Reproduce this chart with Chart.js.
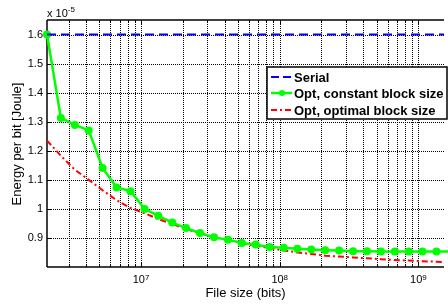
<!DOCTYPE html>
<html>
<head>
<meta charset="utf-8">
<script src="https://cdn.jsdelivr.net/npm/chart.js@4.4.0/dist/chart.umd.min.js"></script>
<style>
  body { margin: 0; background: #fff; }
  canvas { display: block; }
</style>
</head>
<body>
<canvas id="energy-chart" width="448" height="308"></canvas>
<script>
// file sizes in bits (steps of 2^(1/3))
const fileSizes = [2.097e6, 2.64e6, 3.33e6, 4.19e6, 5.28e6, 6.66e6, 8.39e6, 1.06e7, 1.33e7, 1.68e7,
  2.11e7, 2.66e7, 3.36e7, 4.23e7, 5.33e7, 6.71e7, 8.46e7, 1.07e8, 1.34e8, 1.69e8,
  2.13e8, 2.68e8, 3.38e8, 4.26e8, 5.37e8, 6.76e8, 8.52e8, 1.07e9, 1.35e9, 1.70e9];

// energy per bit, in units of 1e-5 Joule
const serialEnergy = [1.6, 1.6, 1.6, 1.6, 1.6, 1.6, 1.6, 1.6, 1.6, 1.6,
  1.6, 1.6, 1.6, 1.6, 1.6, 1.6, 1.6, 1.6, 1.6, 1.6,
  1.6, 1.6, 1.6, 1.6, 1.6, 1.6, 1.6, 1.6, 1.6, 1.6];
const constantBlockEnergy = [1.6, 1.313, 1.289, 1.27, 1.141, 1.074, 1.061, 1.0, 0.976, 0.953,
  0.934, 0.917, 0.902, 0.894, 0.883, 0.877, 0.869, 0.866, 0.863, 0.86,
  0.858, 0.857, 0.854, 0.854, 0.853, 0.853, 0.853, 0.853, 0.853, 0.853];
const optimalBlockEnergy = [1.235, 1.183, 1.135, 1.1, 1.064, 1.03, 1.003, 0.985, 0.965, 0.948,
  0.931, 0.916, 0.903, 0.893, 0.882, 0.873, 0.865, 0.857, 0.85, 0.845,
  0.839, 0.836, 0.833, 0.83, 0.827, 0.824, 0.822, 0.82, 0.818, 0.817];

const seriesLabels = ["Serial", "Opt, constant block size", "Opt, optimal block size"];

const yTicks = [0.9, 1.0, 1.1, 1.2, 1.3, 1.4, 1.5, 1.6];
const yTickLabels = ["0.9", "1", "1.1", "1.2", "1.3", "1.4", "1.5", "1.6"];
const xMajorTicks = [1e7, 1e8, 1e9];
const xMajorExponents = ["7", "8", "9"];
const xMinorTicks = [3e6, 4e6, 5e6, 6e6, 7e6, 8e6, 9e6,
  2e7, 3e7, 4e7, 5e7, 6e7, 7e7, 8e7, 9e7,
  2e8, 3e8, 4e8, 5e8, 6e8, 7e8, 8e8, 9e8];

const font = "'Liberation Sans', Arial, sans-serif";

function toPoints(values) {
  return values.map((v, i) => ({ x: fileSizes[i], y: v }));
}

function line(ctx, x1, y1, x2, y2) {
  ctx.beginPath();
  ctx.moveTo(x1, y1);
  ctx.lineTo(x2, y2);
  ctx.stroke();
}

// grid, ticks, axes, texts and legend in MATLAB style
const matlabFrame = {
  id: "matlabFrame",
  beforeDatasetsDraw(chart) {
    const { ctx, chartArea: a, scales: { x, y } } = chart;
    ctx.save();
    ctx.strokeStyle = "#000";
    ctx.lineWidth = 1;
    ctx.setLineDash([1, 1]);
    xMinorTicks.concat(xMajorTicks).forEach((v) => {
      const px = Math.round(x.getPixelForValue(v)) + 0.5;
      line(ctx, px, a.top, px, a.bottom);
    });
    yTicks.forEach((v) => {
      const py = Math.round(y.getPixelForValue(v)) + 0.5;
      line(ctx, a.left, py, a.right, py);
    });
    ctx.setLineDash([]);
    // tick marks
    xMajorTicks.forEach((v) => {
      const px = Math.round(x.getPixelForValue(v)) + 0.5;
      line(ctx, px, a.bottom, px, a.bottom - 5);
      line(ctx, px, a.top, px, a.top + 5);
    });
    xMinorTicks.forEach((v) => {
      const px = Math.round(x.getPixelForValue(v)) + 0.5;
      line(ctx, px, a.bottom, px, a.bottom - 3);
      line(ctx, px, a.top, px, a.top + 3);
    });
    yTicks.forEach((v) => {
      const py = Math.round(y.getPixelForValue(v)) + 0.5;
      line(ctx, a.left, py, a.left + 4, py);
    });
    // axes box
    ctx.lineWidth = 1.5;
    line(ctx, a.left, a.top, a.left, a.bottom);
    line(ctx, a.left, a.bottom, a.right, a.bottom);
    line(ctx, a.left, a.top, a.right, a.top);
    ctx.restore();
  },
  afterDraw(chart) {
    const { ctx, chartArea: a, scales: { x, y } } = chart;
    ctx.save();
    ctx.fillStyle = "#000";

    // y tick labels
    ctx.font = "11px " + font;
    ctx.textAlign = "right";
    ctx.textBaseline = "middle";
    yTicks.forEach((v, i) => {
      ctx.fillText(yTickLabels[i], a.left - 4, y.getPixelForValue(v));
    });

    // x tick labels 10^n
    ctx.textAlign = "left";
    ctx.textBaseline = "alphabetic";
    xMajorTicks.forEach((v, i) => {
      const px = x.getPixelForValue(v);
      ctx.font = "11px " + font;
      const w1 = ctx.measureText("10").width;
      ctx.font = "8px " + font;
      const w2 = ctx.measureText(xMajorExponents[i]).width;
      const start = px - (w1 + w2) / 2;
      ctx.font = "11px " + font;
      ctx.fillText("10", start, a.bottom + 16);
      ctx.font = "8px " + font;
      ctx.fillText(xMajorExponents[i], start + w1, a.bottom + 13);
    });

    // exponent label
    ctx.font = "11px " + font;
    ctx.fillText("x 10", a.left, a.top - 3);
    const wx = ctx.measureText("x 10").width;
    ctx.font = "8px " + font;
    ctx.fillText("-5", wx + a.left, a.top - 8);

    // axis titles
    ctx.font = "13px " + font;
    ctx.textAlign = "center";
    ctx.textBaseline = "middle";
    ctx.fillText("File size (bits)", (a.left + a.right) / 2, 293);
    ctx.save();
    ctx.translate(17, 144);
    ctx.rotate(-Math.PI / 2);
    ctx.fillText("Energy per bit [Joule]", 0, 0);
    ctx.restore();

    // legend
    const lx = 267, ly = 67, lw = 180, lh = 52;
    ctx.fillStyle = "#fff";
    ctx.fillRect(lx, ly, lw, lh);
    ctx.strokeStyle = "#000";
    ctx.lineWidth = 1.5;
    ctx.strokeRect(lx, ly, lw, lh);
    const rows = [ly + 10, ly + 26, ly + 43];
    ctx.lineWidth = 2;
    ctx.strokeStyle = "#0000ff";
    ctx.setLineDash([8, 4]);
    line(ctx, lx + 4, rows[0], lx + 25, rows[0]);
    ctx.strokeStyle = "#00ff00";
    ctx.setLineDash([]);
    ctx.lineWidth = 2.5;
    line(ctx, lx + 4, rows[1], lx + 25, rows[1]);
    ctx.fillStyle = "#00ff00";
    ctx.beginPath();
    ctx.arc(lx + 15, rows[1], 3, 0, Math.PI * 2);
    ctx.fill();
    ctx.lineWidth = 2;
    ctx.strokeStyle = "#ff0000";
    ctx.setLineDash([6, 3, 2, 3]);
    line(ctx, lx + 4, rows[2], lx + 25, rows[2]);
    ctx.setLineDash([]);
    ctx.fillStyle = "#000";
    ctx.font = "bold 13px " + font;
    ctx.textAlign = "left";
    seriesLabels.forEach((t, i) => ctx.fillText(t, lx + 27, rows[i] + 1));
    ctx.restore();
  },
};

new Chart(document.querySelector("#energy-chart").getContext("2d"), {
  type: "line",
  data: {
    datasets: [
      {
        label: seriesLabels[0],
        data: toPoints(serialEnergy),
        borderColor: "#0000ff",
        borderWidth: 2,
        borderDash: [9, 5],
        pointRadius: 0,
      },
      {
        label: seriesLabels[1],
        data: toPoints(constantBlockEnergy),
        borderColor: "#00ff00",
        backgroundColor: "#00ff00",
        borderWidth: 2.5,
        pointRadius: 4,
        pointBorderWidth: 0,
        clip: false,
      },
      {
        label: seriesLabels[2],
        data: toPoints(optimalBlockEnergy),
        borderColor: "#ff0000",
        borderWidth: 2,
        borderDash: [6, 3, 2, 3],
        pointRadius: 0,
      },
    ],
  },
  options: {
    responsive: false,
    animation: false,
    devicePixelRatio: 1,
    layout: { padding: { left: 47, top: 20, right: 0, bottom: 41 } },
    plugins: { legend: { display: false }, tooltip: { enabled: false } },
    scales: {
      x: { type: "logarithmic", min: 2.097e6, max: 1.53e9, display: false },
      y: { type: "linear", min: 0.8, max: 1.65, display: false },
    },
  },
  plugins: [matlabFrame],
});
</script>
</body>
</html>
